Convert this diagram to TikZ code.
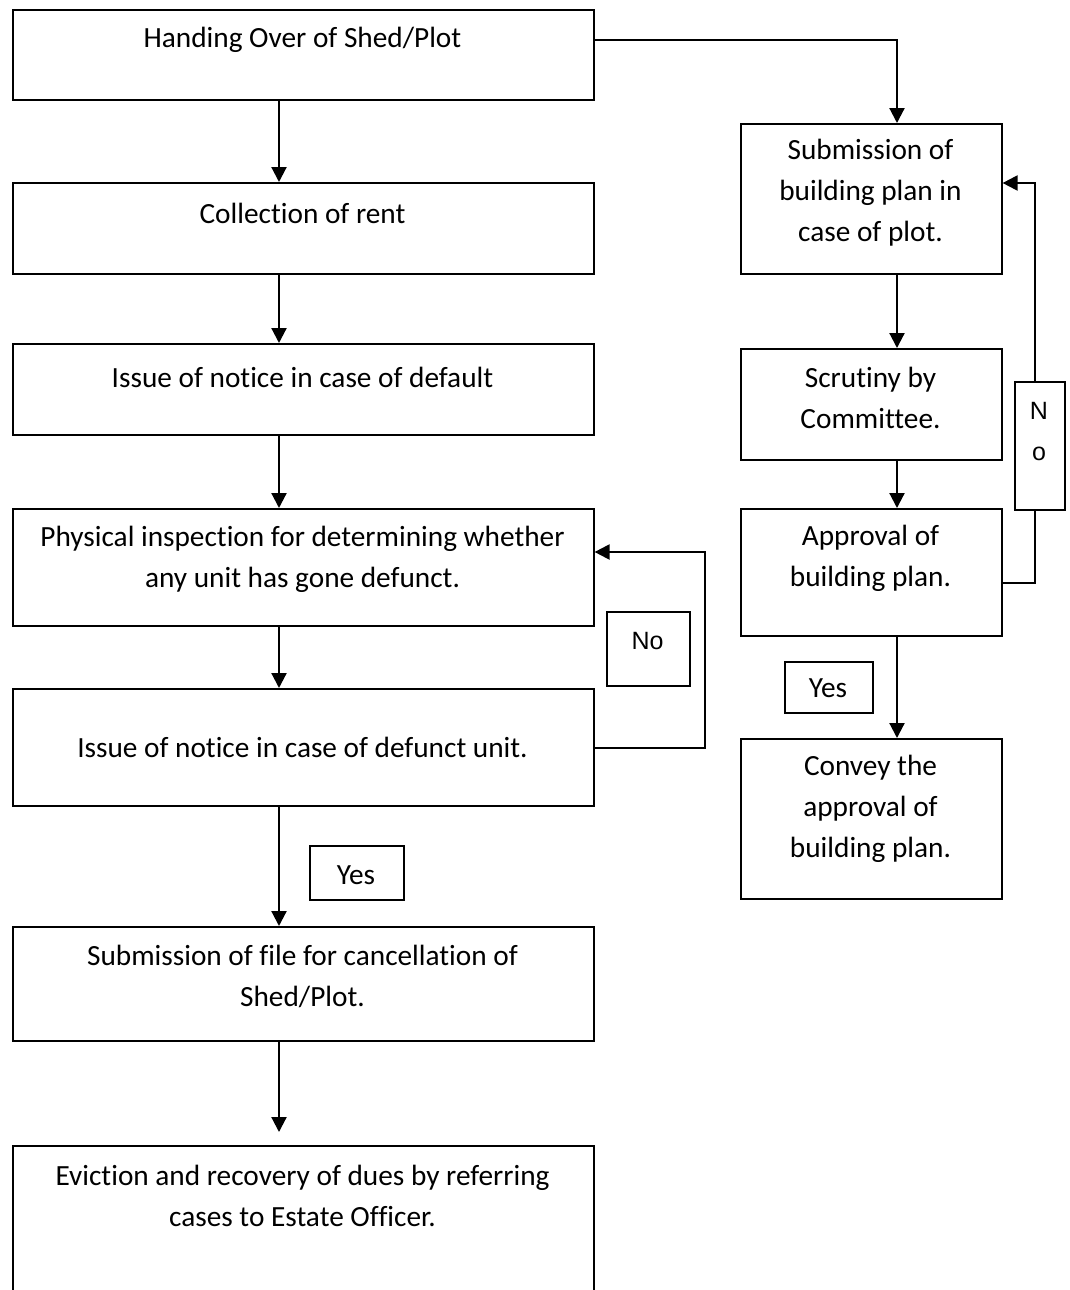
\documentclass[tikz,border=0pt]{standalone}
\usepackage{fontspec}
\setmainfont[Ligatures=NoCommon]{Carlito}
\newfontfamily\tagfont{Liberation Sans}
\usetikzlibrary{arrows.meta,calc}

\begin{document}
\begin{tikzpicture}[x=1pt,y=-1pt,
  box/.style={draw, line width=1.6pt, anchor=north west, inner sep=0pt},
  txt/.style={align=center, inner sep=0pt, font=\fontsize{29.3}{41}\selectfont},
  tagtxt/.style={align=center, inner sep=0pt, font=\tagfont\fontsize{25}{41}\selectfont},
  flow/.style={line width=2.2pt, -{Triangle[length=15pt,width=15pt]}},
  tag/.style={draw, fill=white, line width=1.6pt, anchor=north west, inner sep=0pt}]

\useasboundingbox (0,0) rectangle (1070,1290);
\clip (0,0) rectangle (1070,1290);

% guide columns for the connectors
\coordinate (lx) at (279,0);
\coordinate (rx) at (897,0);

% left column
\node[box, minimum width=581pt, minimum height=90pt]  (a) at (12,9) {};
\node[box, minimum width=581pt, minimum height=91pt]  (b) at (12,182) {};
\node[box, minimum width=581pt, minimum height=91pt]  (c) at (12,343) {};
\node[box, minimum width=581pt, minimum height=117pt] (d) at (12,508) {};
\node[box, minimum width=581pt, minimum height=117pt] (e) at (12,688) {};
\node[box, minimum width=581pt, minimum height=114pt] (f) at (12,926) {};
\node[box, minimum width=581pt, minimum height=170pt] (g) at (12,1145) {};

\node[txt] (ta) at (302.5,40)  {Handing Over of Shed/Plot};
\node[txt] (tb) at (302.5,213) {Collection of rent};
\node[txt] (tc) at (302.5,377) {Issue of notice in case of default};
\node[txt] (td) at (302.5,559) {Physical inspection for determining whether\\any unit has gone defunct.};
\node[txt] (te) at (302.5,747) {Issue of notice in case of defunct unit.};
\node[txt] (tf) at (302.5,976) {Submission of file for cancellation of\\Shed/Plot.};
\node[txt] (tg) at (302.5,1196) {Eviction and recovery of dues by referring\\cases to Estate Officer.};

% right column
\node[box, minimum width=261pt, minimum height=150pt] (r1) at (740,123) {};
\node[box, minimum width=261pt, minimum height=111pt] (r2) at (740,348) {};
\node[box, minimum width=261pt, minimum height=127pt] (r3) at (740,508) {};
\node[box, minimum width=261pt, minimum height=160pt] (r4) at (740,738) {};

\node[txt] (tr1) at (870.5,193) {Submission of\\building plan in\\case of plot.};
\node[txt] (tr2) at (870.5,398) {Scrutiny by\\Committee.};
\node[txt] (tr3) at (870.5,558) {Approval of\\building plan.};
\node[txt] (tr4) at (870.5,809) {Convey the\\approval of\\building plan.};

% main flow
\draw[flow] (a.south -| lx) -- (b.north -| lx);
\draw[flow] (b.south -| lx) -- (c.north -| lx);
\draw[flow] (c.south -| lx) -- (d.north -| lx);
\draw[flow] (d.south -| lx) -- (e.north -| lx);
\draw[flow] (e.south -| lx) -- (f.north -| lx);
\draw[flow] (f.south -| lx) -- ($(g.north -| lx)+(0,-13)$);

\draw[flow] (a.east |- 0,40) -| (r1.north -| rx);
\draw[flow] (r1.south -| rx) -- (r2.north -| rx);
\draw[flow] (r2.south -| rx) -- (r3.north -| rx);
\draw[flow] (r3.south -| rx) -- (r4.north -| rx);

% return loops
\draw[flow] (e.east |- 0,748) -- (705,748) -- (705,552) -- (d.east |- 0,552);
\draw[flow] (r3.east |- 0,583) -- (1035,583) -- (1035,183) -- (r1.east |- 0,183);

% decision tags
\node[tag, minimum width=83pt, minimum height=74pt] (no1) at (606,611) {};
\node[tagtxt] (tno1) at (647.5,641) {No};
\node[tag, minimum width=50pt, minimum height=128pt] (no2) at (1014,381) {};
\node[tagtxt] (tno2) at (1039,432) {N\\o};
\node[tag, minimum width=88pt, minimum height=51pt] (yes1) at (784,661) {};
\node[txt] (tyes1) at (828,688) {Yes};
\node[tag, minimum width=94pt, minimum height=54pt] (yes2) at (309,845) {};
\node[txt] (tyes2) at (356,875) {Yes};
\end{tikzpicture}
\end{document}
